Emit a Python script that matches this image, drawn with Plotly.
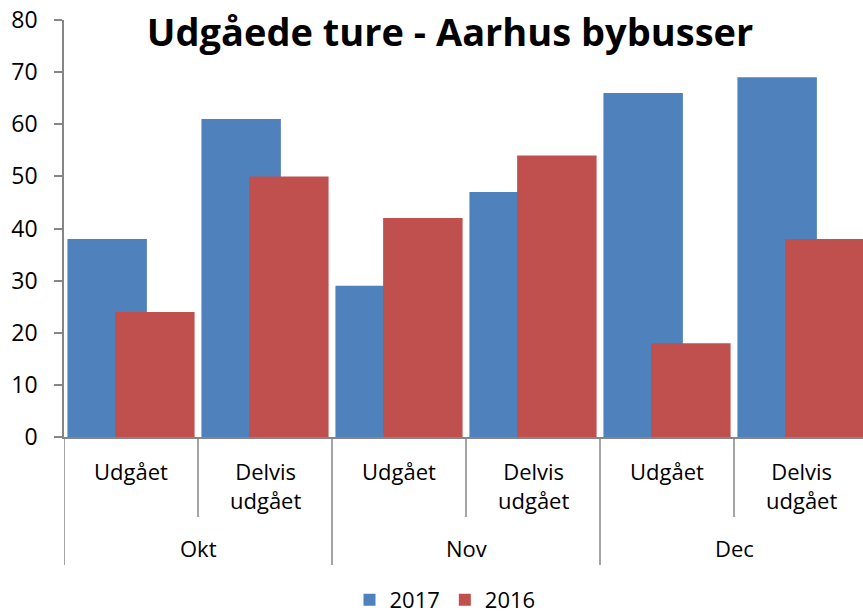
import plotly.graph_objects as go

months = ["Okt", "Nov", "Dec"]
subcats = ["Udgået", "Delvis<br>udgået"]
values_2017 = [38, 61, 29, 47, 66, 69]
values_2016 = [24, 50, 42, 54, 18, 38]
y_ticks = [0, 10, 20, 30, 40, 50, 60, 70, 80]

W, H = 863, 613
L, R, T, B = 64, 0, 20, 176
plot_h = H - T - B

def py(p):
    return (H - B - p) / plot_h

FONT = "Open Sans"
n = len(values_2017)
xs = list(range(n))
bw = 0.593
off = 0.178

fig = go.Figure()
fig.add_trace(go.Bar(x=xs, y=values_2017, name="2017", width=bw, offset=-off - bw / 2,
                     marker=dict(color="#4F81BD", line=dict(width=0))))
fig.add_trace(go.Bar(x=xs, y=values_2016, name="2016", width=bw, offset=off - bw / 2,
                     marker=dict(color="#C0504D", line=dict(width=0))))

annotations = []
shapes = []
for mi, m in enumerate(months):
    for si, s in enumerate(subcats):
        i = mi * len(subcats) + si
        annotations.append(dict(x=i, y=py(454), xref="x", yref="paper", text=s,
                                showarrow=False, yanchor="top", xanchor="center",
                                font=dict(size=22, color="black", family=FONT)))
    annotations.append(dict(x=mi * 2 + 0.5, y=py(548), xref="x", yref="paper", text=m,
                            showarrow=False, yanchor="middle", xanchor="center",
                            font=dict(size=22, color="black", family=FONT)))
for k in range(n):
    xpos = k - 0.5
    bottom = 565 if k % 2 == 0 else 517
    shapes.append(dict(type="line", xref="x", yref="paper", x0=xpos, x1=xpos,
                       y0=py(437), y1=py(bottom), line=dict(color="#868686", width=1.5)))

fig.update_layout(
    width=W, height=H,
    margin=dict(l=L, r=R, t=T, b=B, autoexpand=False),
    paper_bgcolor="white", plot_bgcolor="white",
    barmode="overlay",
    title=dict(text="<b>Udgåede ture - Aarhus bybusser</b>", x=450 / W, xanchor="center",
               xref="container", yref="container", y=1 - 33 / H, yanchor="middle",
               font=dict(size=38, color="black", family=FONT)),
    xaxis=dict(range=[-0.5, n - 0.5 - 5 / 134], showticklabels=False, showgrid=False,
               zeroline=False, showline=True, linecolor="#868686", linewidth=1.5,
               ticks="", fixedrange=True, automargin=False),
    yaxis=dict(range=[0, 80], tickvals=y_ticks, showgrid=False, zeroline=False,
               showline=True, linecolor="#868686", linewidth=1.5, ticks="outside",
               ticklen=8, tickcolor="#868686", tickwidth=1.5, ticklabelstandoff=12,
               automargin=False, fixedrange=True,
               tickfont=dict(size=23, color="black", family=FONT)),
    legend=dict(orientation="h", xref="container", x=445 / W, xanchor="center",
                yref="container", y=1 - 600 / H, yanchor="middle",
                font=dict(size=22, color="black", family=FONT)),
    annotations=annotations, shapes=shapes,
    showlegend=True,
)

fig.write_html("out.html", config={"displayModeBar": False},
               post_script="document.body.style.margin='0';document.body.style.overflow='hidden';")
